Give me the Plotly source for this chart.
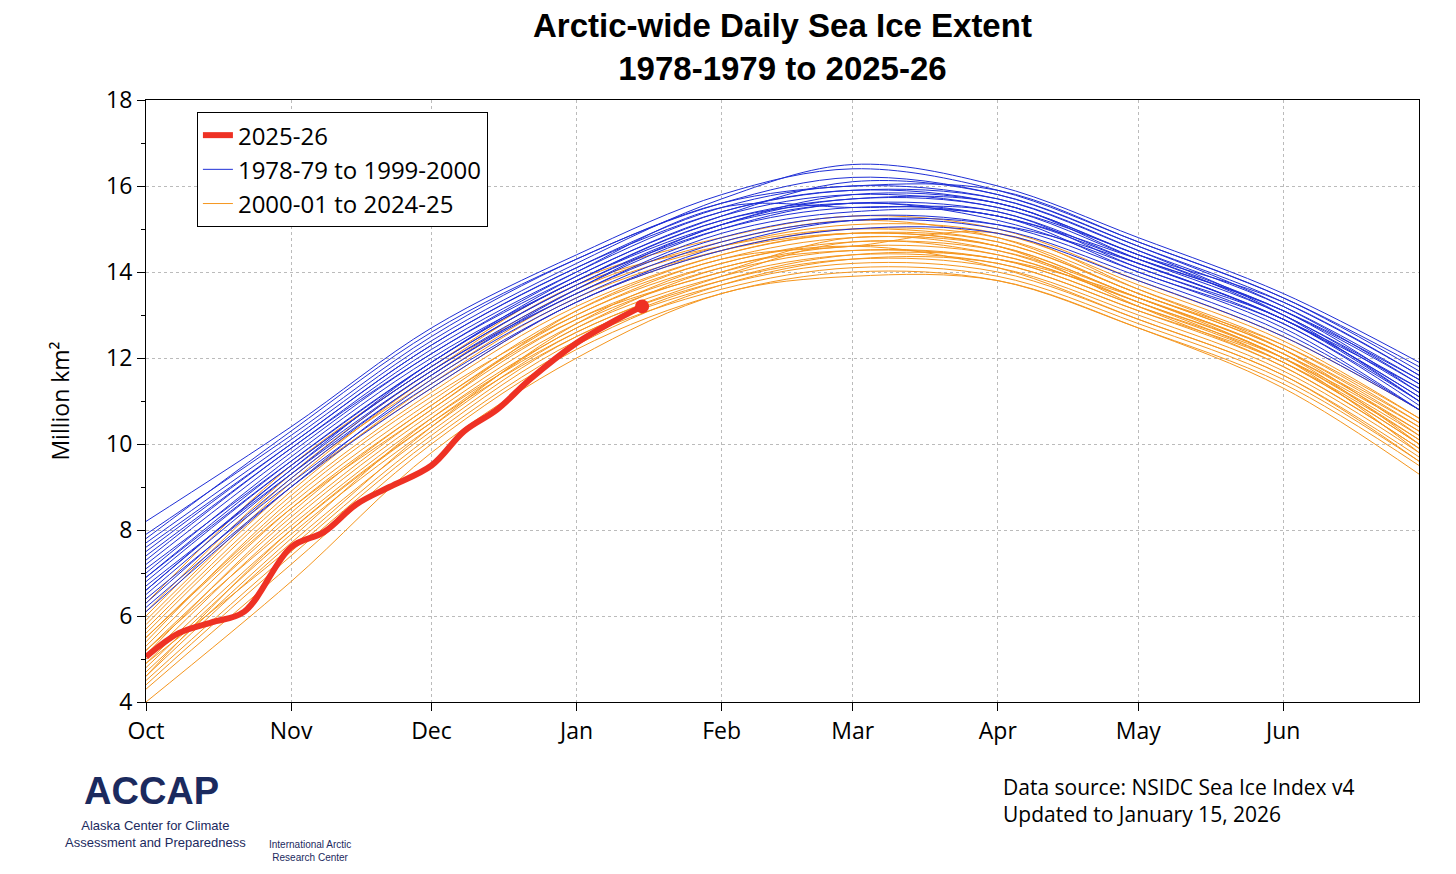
import plotly.graph_objects as go

# day-of-season (0 = Oct 1) for anchor points
anchor_days = [0, 31, 61, 92, 123, 151, 182, 212, 243, 272]
month_days = [0, 31, 61, 92, 123, 151, 182, 212, 243]
month_labels = ['Oct', 'Nov', 'Dec', 'Jan', 'Feb', 'Mar', 'Apr', 'May', 'Jun']

blue_years = [
    [8.2, 10.4, 12.7, 14.4, 15.8, 16.4, 15.9, 14.7, 13.4, 11.8],
    [7.9, 10.2, 12.5, 14.3, 15.6, 16.2, 15.8, 14.6, 13.3, 11.6],
    [7.6, 10.0, 12.3, 14.1, 15.5, 16.0, 15.7, 14.5, 13.2, 11.5],
    [7.4, 9.9, 12.2, 14.0, 15.4, 15.9, 15.6, 14.4, 13.1, 11.4],
    [7.2, 9.8, 12.1, 13.9, 15.3, 15.8, 15.5, 14.4, 13.0, 11.3],
    [7.0, 9.7, 12.0, 13.8, 15.2, 15.7, 15.6, 14.3, 13.0, 11.2],
    [6.9, 9.6, 11.9, 13.8, 15.1, 15.6, 15.4, 14.2, 12.9, 11.1],
    [6.8, 9.5, 11.8, 13.7, 15.0, 15.5, 15.3, 14.2, 12.9, 11.0],
    [6.6, 9.4, 11.7, 13.6, 15.0, 15.6, 15.2, 14.1, 12.8, 11.0],
    [6.5, 9.3, 11.7, 13.5, 14.9, 15.4, 15.3, 14.0, 12.8, 10.9],
    [6.3, 9.2, 11.6, 13.5, 14.8, 15.3, 15.1, 14.0, 12.7, 10.8],
    [6.1, 9.0, 11.5, 13.4, 14.7, 15.2, 15.0, 13.9, 12.6, 10.8],
    [7.7, 10.1, 12.4, 14.2, 15.7, 16.5, 16.0, 14.8, 13.5, 11.9],
    [7.1, 9.6, 11.9, 13.9, 15.3, 16.1, 15.8, 14.6, 13.2, 11.4],
    [6.7, 9.3, 11.6, 13.6, 15.1, 15.7, 15.5, 14.3, 13.1, 11.2],
    [7.3, 9.9, 12.1, 14.0, 15.5, 15.5, 15.4, 14.1, 12.9, 11.1],
    [6.4, 9.1, 11.4, 13.3, 14.6, 15.2, 15.1, 14.2, 12.9, 11.3],
    [7.5, 10.0, 12.3, 14.1, 15.4, 15.9, 15.7, 14.5, 13.0, 11.0],
    [6.9, 9.5, 11.8, 13.7, 15.1, 15.8, 15.6, 14.4, 13.3, 11.6],
    [6.2, 9.0, 11.3, 13.3, 14.5, 15.0, 14.9, 13.8, 12.5, 10.8],
    [7.8, 10.3, 12.6, 14.3, 15.6, 16.0, 15.9, 14.7, 13.4, 11.7],
    [6.6, 9.4, 11.9, 13.8, 15.2, 15.6, 15.3, 14.3, 13.1, 11.5],
]

orange_years = [
    [6.3, 9.5, 11.8, 13.8, 14.8, 15.3, 15.0, 13.8, 12.5, 10.8],
    [6.0, 9.2, 11.5, 13.5, 14.6, 15.1, 14.9, 13.7, 12.4, 10.6],
    [5.8, 9.0, 11.3, 13.3, 14.5, 15.0, 14.8, 13.6, 12.3, 10.5],
    [5.6, 8.8, 11.2, 13.2, 14.4, 14.9, 14.7, 13.5, 12.2, 10.4],
    [5.5, 8.6, 11.0, 13.1, 14.3, 14.8, 14.6, 13.4, 12.1, 10.3],
    [5.3, 8.5, 10.9, 13.0, 14.2, 14.7, 14.5, 13.4, 12.0, 10.2],
    [5.2, 8.3, 10.8, 12.9, 14.1, 14.6, 14.4, 13.3, 12.0, 10.1],
    [5.0, 8.2, 10.7, 12.8, 14.0, 14.5, 14.3, 13.2, 11.9, 10.0],
    [4.9, 8.0, 10.5, 12.7, 13.9, 14.4, 14.2, 13.1, 11.8, 9.9],
    [4.8, 7.9, 10.4, 12.6, 13.8, 14.3, 14.1, 13.0, 11.7, 9.8],
    [4.6, 7.7, 10.3, 12.5, 13.7, 14.2, 14.0, 12.9, 11.6, 9.7],
    [4.5, 7.5, 10.2, 12.4, 13.6, 14.1, 13.9, 12.8, 11.5, 9.6],
    [4.3, 7.2, 10.0, 12.2, 13.5, 14.0, 13.8, 12.7, 11.4, 9.5],
    [4.0, 6.8, 9.8, 12.0, 13.5, 13.9, 13.8, 12.7, 11.3, 9.3],
    [5.9, 9.1, 11.6, 13.6, 14.7, 15.2, 14.8, 13.5, 12.3, 10.6],
    [5.4, 8.7, 11.1, 13.0, 14.3, 14.6, 14.9, 13.6, 12.2, 10.2],
    [5.1, 8.4, 10.9, 12.9, 14.0, 14.8, 14.5, 13.3, 11.9, 10.0],
    [4.7, 7.8, 10.6, 12.7, 14.1, 14.5, 14.3, 13.4, 12.1, 10.4],
    [5.7, 8.9, 11.4, 13.4, 14.5, 14.9, 14.6, 13.2, 11.8, 9.9],
    [4.4, 7.4, 10.1, 12.3, 13.7, 14.3, 14.2, 13.1, 11.9, 10.1],
    [5.2, 8.1, 10.6, 12.6, 13.9, 14.7, 14.4, 13.3, 12.0, 9.8],
    [4.9, 7.6, 10.4, 12.8, 14.2, 14.6, 14.1, 12.9, 11.6, 9.6],
    [6.1, 9.3, 11.7, 13.7, 14.6, 15.0, 14.7, 13.5, 12.2, 10.5],
    [4.6, 8.0, 10.5, 12.5, 13.8, 14.4, 14.3, 13.2, 12.0, 10.3],
    [5.5, 8.5, 10.8, 13.1, 14.4, 14.9, 14.6, 13.4, 12.1, 10.0],
]

current_days = [0, 7, 14, 21, 31, 38, 45, 52, 61, 68, 75, 82, 92, 99, 106]
current_vals = [5.05, 5.6, 5.85, 6.1, 7.6, 7.95, 8.6, 9.0, 9.5, 10.3, 10.8, 11.5, 12.35, 12.8, 13.2]

fig = go.Figure()

for i, vals in enumerate(orange_years):
    fig.add_trace(go.Scatter(x=anchor_days, y=vals, mode='lines',
                             line=dict(color='#f5961e', width=1, shape='spline'),
                             name='2000-01 to 2024-25', legendgroup='o',
                             showlegend=(i == 0), legendrank=3))
for i, vals in enumerate(blue_years):
    fig.add_trace(go.Scatter(x=anchor_days, y=vals, mode='lines',
                             line=dict(color='#1f2fd6', width=1, shape='spline'),
                             name='1978-79 to 1999-2000', legendgroup='b',
                             showlegend=(i == 0), legendrank=2))
fig.add_trace(go.Scatter(x=current_days, y=current_vals, mode='lines',
                         line=dict(color='#ee3124', width=6, shape='spline'),
                         name='2025-26', legendrank=1))
fig.add_trace(go.Scatter(x=[current_days[-1]], y=[current_vals[-1]], mode='markers',
                         marker=dict(color='#ee3124', size=14), showlegend=False))

fig.update_layout(
    width=1456, height=874, plot_bgcolor='white', paper_bgcolor='white',
    margin=dict(l=138, r=45, t=92, b=180, autoexpand=False),
    font=dict(family='Liberation Sans, Arial', size=22, color='black'),
    legend=dict(x=0.04, y=0.98, xanchor='left', yanchor='top',
                bordercolor='black', borderwidth=1, bgcolor='white',
                font=dict(family='Open Sans, Liberation Sans', size=24),
                tracegroupgap=0),
    showlegend=True,
)
fig.update_xaxes(range=[0, 272], tickvals=month_days, ticktext=month_labels,
                 showline=True, linecolor='black', mirror=True, automargin=False,
                 ticks='outside', ticklen=8, tickcolor='black',
                 showgrid=True, gridcolor='#bbbbbb', griddash='dot',
                 zeroline=False, tickfont=dict(family='Open Sans', size=23))
fig.update_yaxes(range=[4, 18], dtick=2, showline=True, linecolor='black', mirror=True,
                 automargin=False,
                 ticks='outside', ticklen=8, tickcolor='black',
                 minor=dict(dtick=1, ticks='outside', ticklen=4, tickcolor='black', showgrid=False),
                 showgrid=True, gridcolor='#bbbbbb', griddash='dot', zeroline=False,
                 title=dict(text='Million km²', standoff=30,
                            font=dict(family='Open Sans', size=23)),
                 tickfont=dict(family='Open Sans', size=23))

fig.add_annotation(text='<b>Arctic-wide Daily Sea Ice Extent<br>1978-1979 to 2025-26</b>',
                   xref='paper', yref='paper', x=0.5, y=1.088, xanchor='center', yanchor='middle',
                   showarrow=False, align='center',
                   font=dict(family='Liberation Sans, Arial', size=33))
fig.add_annotation(text='Data source: NSIDC Sea Ice Index v4<br>Updated to January 15, 2026',
                   xref='paper', yref='paper', x=0.672, y=-0.115, xanchor='left', yanchor='top',
                   align='left', showarrow=False,
                   font=dict(family='Open Sans', size=21))
fig.add_annotation(text='<b>ACCAP</b>', xref='paper', yref='paper', x=-0.05, y=-0.11,
                   xanchor='left', yanchor='top', showarrow=False,
                   font=dict(family='Liberation Sans', size=38, color='#1b2a5e'))
fig.add_annotation(text='Alaska Center for Climate<br>Assessment and Preparedness',
                   xref='paper', yref='paper', x=-0.065, y=-0.19, xanchor='left', yanchor='top',
                   showarrow=False, align='center',
                   font=dict(family='Liberation Sans', size=13, color='#1b2a5e'))
fig.add_annotation(text='International Arctic<br>Research Center',
                   xref='paper', yref='paper', x=0.095, y=-0.225, xanchor='left', yanchor='top',
                   showarrow=False, align='center',
                   font=dict(family='Liberation Sans', size=10, color='#1b2a5e'))

fig.write_html("out.html")
